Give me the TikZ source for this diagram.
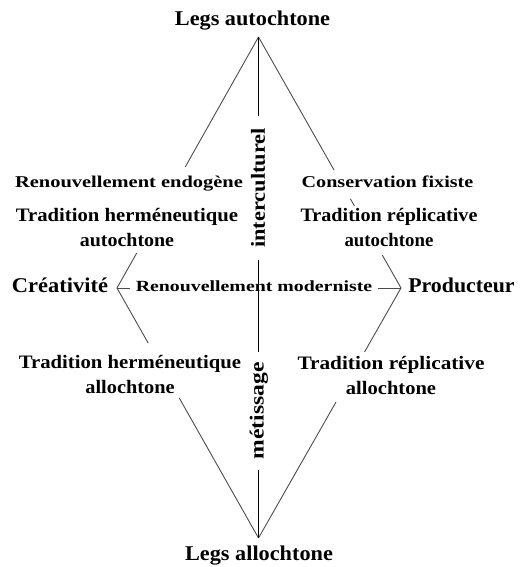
\documentclass[tikz,border=0pt]{standalone}
\usepackage{fontspec}
\setmainfont{Liberation Serif}
\usepackage{graphicx}
\usetikzlibrary{calc}
\newcommand{\sx}[2]{\scalebox{#1}[1]{#2}}
\begin{document}
\begin{tikzpicture}[x=1pt,y=-1pt,
  lbl/.style={inner sep=0pt, font=\fontsize{#1}{25}\selectfont\bfseries},
  multi/.style={lbl=19, align=center},
  vlbl/.style={lbl=#1, rotate=90, inner xsep=12pt},
  dline/.style={line width=0.9pt, black!70},
  vline/.style={line width=1.3pt, black}]
\useasboundingbox (0,0) rectangle (520,567);

% vertices
\coordinate (T) at (258.5,37);
\coordinate (L) at (117,288);
\coordinate (B) at (258.5,538);
\coordinate (R) at (401,288);

% diamond edges (broken by the labels)
\draw[dline] (T) -- ($(T)!0.518!(L)$) ($(T)!0.861!(L)$) -- (L) -- ($(L)!0.22!(B)$) ($(L)!0.44!(B)$) -- (B);
\draw[dline] (T) -- ($(T)!0.53!(R)$) ($(T)!0.645!(R)$) -- ($(T)!0.673!(R)$) ($(T)!0.869!(R)$) -- (R) -- ($(R)!0.256!(B)$) ($(R)!0.456!(B)$) -- (B);

% labels
\node[lbl=21, anchor=base] (legsA) at (252.5,26) {\sx{1.06}{Legs autochtone}};
\node[lbl=21, anchor=base] (legsB) at (259,560) {\sx{1.06}{Legs allochtone}};
\node[lbl=16.5, anchor=base] (renEnd) at (129,187) {\sx{1.24}{Renouvellement endogène}};
\node[lbl=16.5, anchor=base] (consFix) at (387.5,187) {\sx{1.22}{Conservation fixiste}};
\node[multi] (tradHA) at (127,228) {\sx{1.09}{Tradition herméneutique}\\\sx{1.05}{autochtone}};
\node[multi] (tradRA) at (389,228) {\sx{1.06}{Tradition réplicative}\\\sx{0.99}{autochtone}};
\node[multi] (tradHB) at (130,374) {\sx{1.09}{Tradition herméneutique}\\\sx{1.07}{allochtone}};
\node[multi] (tradRB) at (391,375) {\sx{1.12}{Tradition réplicative}\\\sx{1.08}{allochtone}};
\node[lbl=21, anchor=base] (creat) at (60,292) {\sx{1.07}{Créativité}};
\node[lbl=21, anchor=base] (prod) at (461.5,292) {\sx{1.04}{Producteur}};
\node[lbl=15.5, anchor=base, inner xsep=6pt] (moder) at (254,291) {\sx{1.28}{Renouvellement moderniste}};
\node[vlbl=20] (inter) at (258,188) {\sx{1.12}{interculturel}};
\node[vlbl=20, inner xsep=10pt] (metis) at (259,411) {\sx{1.18}{métissage}};

% horizontal axis
\draw[dline] (L) -- (L -| moder.west);
\draw[dline] (moder.east |- R) -- (R);

% vertical axis
\draw[vline] (T) -- (T |- inter.east);
\draw[vline] (T |- inter.west) -- (T |- metis.east);
\draw[vline] (T |- metis.west) -- (B);
\end{tikzpicture}
\end{document}
